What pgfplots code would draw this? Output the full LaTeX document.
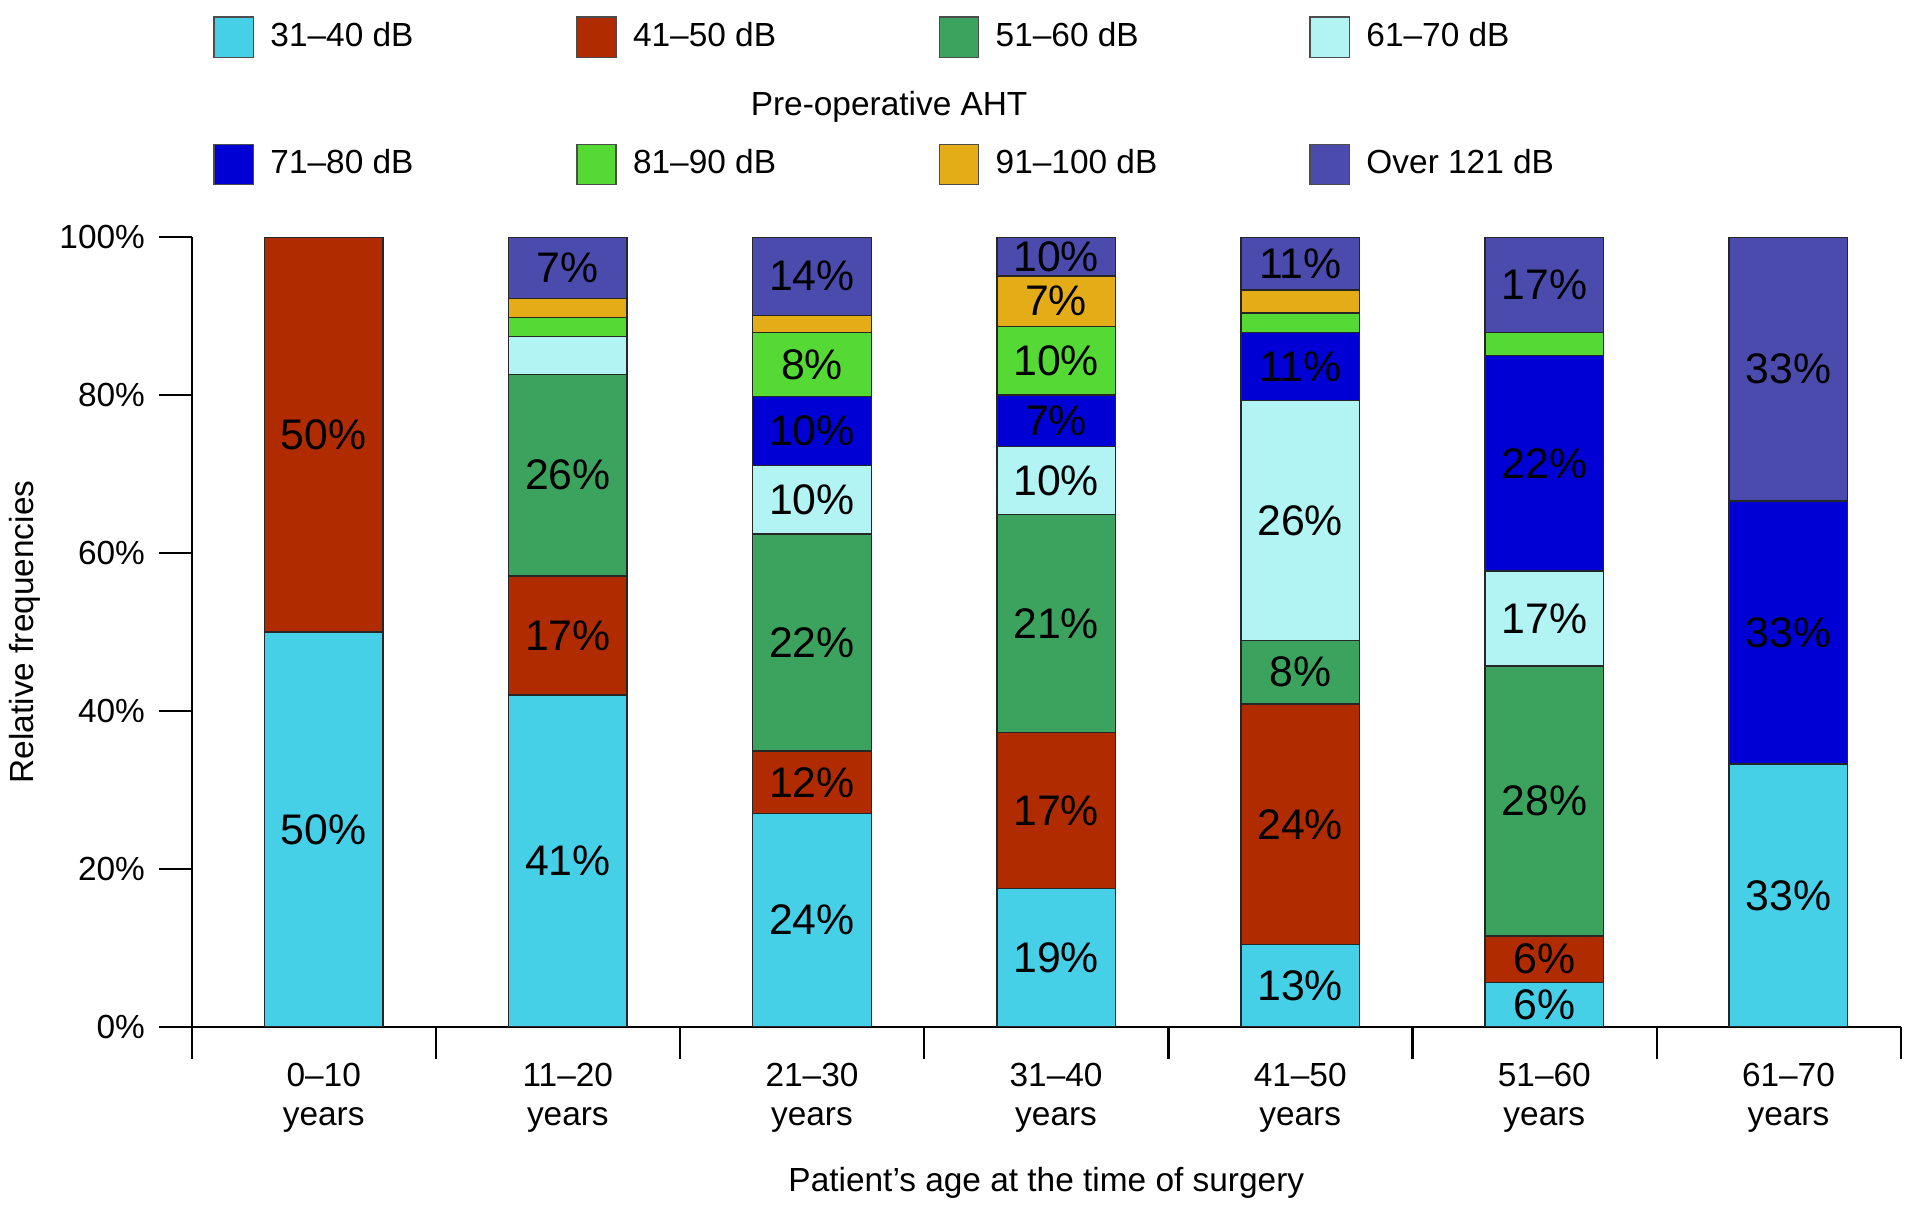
\documentclass[border=0pt]{standalone}
\usepackage{fontspec}
\setmainfont{Liberation Sans}
\usepackage{pgfplots}
\usepackage{pgfplotstable}
\pgfplotsset{compat=1.18}
\definecolor{cA}{RGB}{69,208,232}
\definecolor{cB}{RGB}{176,44,0}
\definecolor{cC}{RGB}{60,163,95}
\definecolor{cD}{RGB}{178,244,244}
\definecolor{cE}{RGB}{0,0,212}
\definecolor{cF}{RGB}{85,217,53}
\definecolor{cG}{RGB}{228,172,22}
\definecolor{cH}{RGB}{75,75,174}
\newcommand{\tf}{\fontsize{8.2}{9.4}\selectfont}
\newcommand{\lf}{\fontsize{10.5}{12}\selectfont}

\pgfplotstableread{
x c1 c2 c3 c4 c5 c6 c7 c8
0 50 50 0 0 0 0 0 0
1 42 15.1 25.5 4.8 0 2.4 2.4 7.8
2 27 7.9 27.5 8.7 8.7 8.1 2.2 9.9
3 17.5 19.8 27.6 8.6 6.5 8.7 6.4 4.9
4 10.4 30.5 8.0 30.4 8.6 2.5 2.9 6.7
5 5.6 5.9 34.2 12.0 27.3 2.9 0 12.1
6 33.3 0 0 0 33.3 0 0 33.4
}\data

\pgfplotstableread{
x y lab
0 25 50\%
0 75 50\%
1 21 41\%
1 49.55 17\%
1 69.85 26\%
1 96.1 7\%
2 13.5 24\%
2 30.95 12\%
2 48.65 22\%
2 66.75 10\%
2 75.45 10\%
2 83.85 8\%
2 95.05 14\%
3 8.75 19\%
3 27.4 17\%
3 51.1 21\%
3 69.2 10\%
3 76.75 7\%
3 84.35 10\%
3 91.9 7\%
3 97.55 10\%
4 5.2 13\%
4 25.65 24\%
4 44.9 8\%
4 64.1 26\%
4 83.6 11\%
4 96.65 11\%
5 2.8 6\%
5 8.55 6\%
5 28.6 28\%
5 51.7 17\%
5 71.35 22\%
5 93.95 17\%
6 16.65 33\%
6 49.95 33\%
6 83.3 33\%
}\labels

\pgfplotsset{
  common/.style={
    at={(47.1pt,45.6pt)}, anchor=south west, scale only axis,
    width=419.4pt, height=193.8pt,
    xmin=-0.54, xmax=6.46, ymin=0, ymax=100,
  },
  leg/.style={
    common, hide axis,
    legend columns=4,
    legend cell align=left,
    legend style={draw=none, fill=none, inner sep=0pt, font=\tf, anchor=west,
      /tikz/every odd column/.append style={column sep=2pt},
      /tikz/every even column/.append style={column sep=0pt}},
    legend image code/.code={\draw[##1, draw=black!70, line width=0.4pt] (0pt,-4.95pt) rectangle (9.6pt,4.95pt);},
  }
}

\begin{document}
\begin{tikzpicture}
\useasboundingbox (0,0) rectangle (469.5pt,297.6pt);
\begin{axis}[common,
  ybar stacked, bar width=29.1pt,
  axis lines*=left, tick align=outside, major tick length=8pt,
  axis line style={black, line width=0.55pt},
  every tick/.style={black, line width=0.55pt},
  ytick={0,20,40,60,80,100}, yticklabels={0\%,20\%,40\%,60\%,80\%,100\%},
  xtick={-0.54,0.46,1.46,2.46,3.46,4.46,5.46,6.46}, xticklabels={},
  extra x ticks={0,1,2,3,4,5,6},
  extra x tick labels={{0–10\\years},{11–20\\years},{21–30\\years},{31–40\\years},{41–50\\years},{51–60\\years},{61–70\\years}},
  extra x tick style={major tick length=0pt, xticklabel style={align=center, yshift=-5.5pt}},
  tick label style={font=\tf},
  xlabel={Patient’s age at the time of surgery},
  ylabel={Relative frequencies},
  every axis x label/.style={at={(axis description cs:0.5,-0.198)}, anchor=center, font=\tf},
  every axis y label/.style={at={(axis description cs:-0.098,0.5)}, rotate=90, anchor=center, font=\tf},
  every axis plot/.append style={draw=black!85, line width=0.35pt},
]
\addplot[fill=cA] table[x=x,y=c1]{\data};
\addplot[fill=cB] table[x=x,y=c2]{\data};
\addplot[fill=cC] table[x=x,y=c3]{\data};
\addplot[fill=cD] table[x=x,y=c4]{\data};
\addplot[fill=cE] table[x=x,y=c5]{\data};
\addplot[fill=cF] table[x=x,y=c6]{\data};
\addplot[fill=cG] table[x=x,y=c7]{\data};
\addplot[fill=cH] table[x=x,y=c8]{\data};
\end{axis}
\begin{axis}[leg, legend style={at={(axis description cs:0.0121,1.253)}}]
\addlegendimage{fill=cA}\addlegendentry{\makebox[73pt][l]{31–40 dB}}
\addlegendimage{fill=cB}\addlegendentry{\makebox[73pt][l]{41–50 dB}}
\addlegendimage{fill=cC}\addlegendentry{\makebox[75pt][l]{51–60 dB}}
\addlegendimage{fill=cD}\addlegendentry{\makebox[72.4pt][l]{61–70 dB}}
\end{axis}
\begin{axis}[leg, clip=false, legend style={at={(axis description cs:0.0121,1.092)}}]
\addlegendimage{fill=cE}\addlegendentry{\makebox[73pt][l]{71–80 dB}}
\addlegendimage{fill=cF}\addlegendentry{\makebox[73pt][l]{81–90 dB}}
\addlegendimage{fill=cG}\addlegendentry{\makebox[75pt][l]{91–100 dB}}
\addlegendimage{fill=cH}\addlegendentry{\makebox[72.4pt][l]{Over 121 dB}}
\addplot[only marks, mark=*, mark size=0pt, mark options={draw=none, fill=none},
  nodes near coords, point meta=explicit symbolic,
  nodes near coords style={anchor=center, font=\lf, text=black}]
  table[x=x, y=y, meta=lab]{\labels};
\node[font=\tf] at (axis description cs:0.408,1.165) {Pre-operative AHT};
\end{axis}
\end{tikzpicture}
\end{document}
